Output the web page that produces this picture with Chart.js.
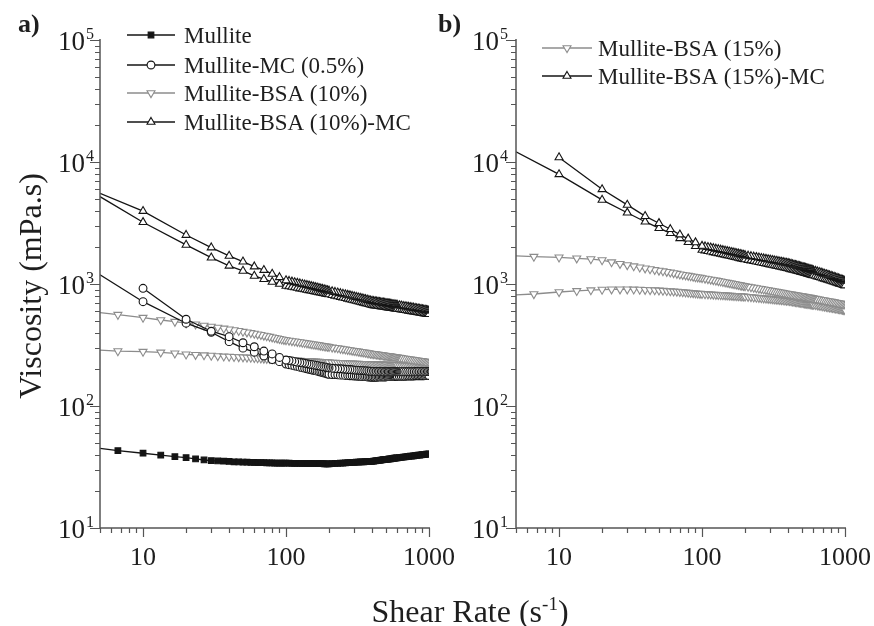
<!DOCTYPE html>
<html>
<head>
<meta charset="utf-8">
<script src="https://cdn.jsdelivr.net/npm/chart.js@4.4.1/dist/chart.umd.min.js"></script>
<style>
  html, body { margin: 0; padding: 0; background: #fff; }
  #wrap { position: relative; width: 874px; height: 626px; overflow: hidden; font-family: "Liberation Serif", "Times New Roman", serif; color: #1e1e1e; }
  canvas { position: absolute; top: 0; left: 0; }
  .panel { position: absolute; top: 11px; font-size: 26px; line-height: 26px; font-weight: bold; }
  #xTitle { position: absolute; left: 270px; width: 400px; top: 595px; font-size: 32px; line-height: 32px; text-align: center; white-space: nowrap; }
  #xTitle sup { font-size: 19px; line-height: 0; vertical-align: 12px; }
  #yTitle { position: absolute; left: -170px; top: 266px; width: 400px; height: 40px; line-height: 40px; font-size: 32px; text-align: center; white-space: nowrap; transform: rotate(-90deg); }
</style>
</head>
<body>
<div id="wrap">
  <canvas id="chartA" width="874" height="626" style="width:874px;height:626px"></canvas>
  <canvas id="chartB" width="874" height="626" style="width:874px;height:626px"></canvas>
  <div class="panel" style="left:18px">a)</div>
  <div class="panel" style="left:438px">b)</div>
  <div id="yTitle">Viscosity (mPa.s)</div>
  <div id="xTitle">Shear Rate (s<sup>-1</sup>)</div>
</div>
<script>
// shear rate grids (s-1); the first point sits on the left edge of the plot
const rateFineHead = [5, 6.67, 10, 13.3, 16.7, 20, 23.3, 26.7, 30, 33.3, 36.7, 40, 43.3, 46.7, 50, 53.3, 56.7, 60, 63.3, 66.7, 70, 73.3, 76.7, 80, 83.3, 86.7, 90, 93.3, 96.7, 100];
const rateCoarseHead = [5, 10, 20, 30, 40, 50, 60, 70, 80, 90, 100];
const rateTail = [105, 110, 115, 120, 125, 130, 135, 140, 145, 150, 155, 160, 165, 170, 175, 180, 185, 190, 195, 200,
  210, 220, 230, 240, 250, 260, 270, 280, 290, 300, 310, 320, 330, 340, 350, 360, 370, 380, 390, 400,
  410, 420, 430, 440, 450, 460, 470, 480, 490, 500, 510, 520, 530, 540, 550, 560, 570, 580, 590, 600,
  620, 640, 660, 680, 700, 720, 740, 760, 780, 800, 820, 840, 860, 880, 900, 920, 940, 960, 980, 1000];

// tick labels
const xTicks = [10, 100, 1000];
const yTicks = [10, 100, 1000, 10000, 100000];

// viscosity (mPa.s), panel a
const mullite = [45, 43, 41, 39.6, 38.4, 37.7, 36.8, 36.1, 35.7, 35.5, 35.3, 35.1, 34.9, 34.8, 34.7, 34.6, 34.5, 34.45, 34.4, 34.35, 34.3, 34.25, 34.2, 34.15, 34.1, 34.1, 34.05, 34.0, 34.0, 34.0,
  34.0, 33.9, 33.9, 33.9, 33.9, 33.8, 33.8, 33.8, 33.8, 33.8, 33.7, 33.7, 33.7, 33.7, 33.7, 33.7, 33.6, 33.6, 33.6, 33.6,
  33.7, 33.8, 33.9, 34.0, 34.1, 34.2, 34.3, 34.4, 34.5, 34.5, 34.6, 34.7, 34.8, 34.8, 34.9, 35.0, 35.0, 35.1, 35.1, 35.2,
  35.3, 35.5, 35.6, 35.8, 35.9, 36.0, 36.1, 36.3, 36.4, 36.5, 36.6, 36.7, 36.8, 36.9, 37.0, 37.2, 37.3, 37.4, 37.5, 37.6,
  37.7, 37.9, 38.1, 38.3, 38.4, 38.6, 38.8, 38.9, 39.1, 39.2, 39.4, 39.5, 39.6, 39.8, 39.9, 40.0, 40.1, 40.3, 40.4, 40.5];

const mcLow = [1190, 716, 477, 402, 337, 298, 276, 257, 240, 231, 221,
  218, 216, 213, 211, 208, 206, 204, 202, 200, 198, 196, 195, 193, 191, 190, 188, 186, 185, 183, 182,
  181, 181, 180, 179, 179, 178, 178, 177, 177, 176, 176, 175, 175, 174, 174, 174, 173, 173, 172, 172,
  172, 172, 172, 173, 173, 173, 173, 173, 173, 173, 174, 174, 174, 174, 174, 174, 174, 174, 175, 175,
  175, 175, 175, 175, 176, 176, 176, 176, 176, 177, 177, 177, 177, 177, 177, 177, 178, 178, 178, 178];
const mcHigh = [null, 922, 514, 410, 370, 330, 306, 282, 267, 250, 238,
  236, 234, 231, 229, 227, 226, 224, 222, 220, 219, 217, 216, 214, 213, 211, 210, 209, 207, 206, 205,
  204, 203, 202, 202, 201, 200, 199, 199, 198, 197, 197, 196, 196, 195, 195, 194, 194, 193, 193, 192,
  192, 192, 192, 192, 192, 191, 191, 191, 191, 191, 191, 191, 191, 191, 191, 191, 191, 191, 191, 191,
  191, 191, 191, 191, 191, 191, 191, 191, 191, 192, 192, 192, 192, 192, 192, 192, 192, 192, 192, 192];

const bsa10Low = [287, 282, 279, 275, 270, 265, 263, 261, 259, 257, 255, 254, 253, 252, 251, 250, 249, 248, 247, 246, 245, 244, 244, 243, 243, 242, 242, 241, 241, 240,
  239, 238, 238, 237, 236, 235, 235, 234, 234, 233, 232, 232, 231, 231, 230, 230, 229, 229, 228, 228,
  227, 227, 226, 226, 225, 225, 224, 224, 224, 223, 223, 223, 222, 222, 222, 221, 221, 221, 220, 220,
  220, 220, 219, 219, 219, 219, 219, 218, 218, 218, 218, 218, 218, 217, 217, 217, 217, 217, 217, 217,
  216, 216, 216, 215, 215, 215, 215, 214, 214, 214, 214, 214, 213, 213, 213, 213, 213, 212, 212, 212];
const bsa10High = [582, 560, 530, 507, 491, 477, 467, 457, 448, 440, 432, 425, 419, 413, 407, 402, 397, 392, 387, 383, 378, 374, 370, 366, 362, 359, 355, 352, 349, 347,
  344, 341, 339, 336, 334, 331, 329, 327, 325, 322, 320, 319, 317, 315, 313, 311, 310, 308, 307, 305,
  302, 300, 298, 295, 293, 291, 289, 287, 285, 283, 282, 280, 278, 277, 275, 274, 272, 271, 269, 268,
  267, 266, 265, 264, 263, 262, 261, 260, 259, 258, 257, 257, 256, 255, 254, 253, 253, 252, 251, 250,
  249, 248, 246, 245, 244, 242, 241, 240, 239, 238, 237, 236, 235, 234, 233, 232, 231, 230, 229, 228];

const bsa10mcLow = [5200, 3210, 2090, 1645, 1410, 1280, 1165, 1095, 1040, 1000, 965,
  955, 945, 936, 927, 918, 910, 902, 895, 887, 880, 873, 867, 860, 854, 848, 842, 836, 831, 825, 820,
  810, 800, 790, 781, 772, 764, 756, 748, 741, 733, 726, 720, 713, 707, 701, 695, 689, 683, 677, 672,
  669, 666, 664, 661, 658, 656, 653, 651, 648, 646, 644, 641, 639, 637, 635, 633, 631, 629, 627, 625,
  621, 617, 614, 610, 607, 603, 600, 597, 594, 591, 588, 585, 583, 580, 577, 575, 572, 570, 567, 565];
const bsa10mcHigh = [5530, 3960, 2520, 1990, 1700, 1525, 1390, 1300, 1210, 1135, 1070,
  1057, 1044, 1032, 1020, 1009, 998, 988, 978, 968, 959, 950, 941, 933, 925, 917, 909, 901, 894, 887, 880,
  869, 859, 849, 839, 830, 821, 813, 805, 797, 789, 782, 775, 768, 761, 755, 749, 742, 737, 731, 725,
  722, 719, 716, 713, 710, 707, 704, 701, 698, 696, 693, 691, 688, 686, 683, 681, 679, 676, 674, 672,
  668, 664, 659, 656, 652, 648, 644, 641, 638, 634, 631, 628, 625, 622, 619, 616, 613, 610, 608, 605];

// viscosity (mPa.s), panel b
const bsa15Low = [813, 828, 860, 878, 890, 900, 905, 905, 905, 903, 900, 897, 893, 890, 886, 882, 878, 874, 870, 866, 862, 858, 854, 850, 846, 843, 840, 836, 833, 830,
  827, 825, 822, 820, 817, 815, 813, 811, 809, 807, 805, 803, 801, 799, 798, 796, 795, 793, 792, 790,
  786, 782, 778, 774, 771, 767, 764, 761, 758, 755, 752, 749, 747, 744, 742, 739, 737, 734, 732, 730,
  727, 724, 721, 718, 715, 712, 709, 707, 704, 701, 699, 696, 694, 691, 689, 687, 684, 682, 680, 678,
  674, 670, 666, 662, 658, 654, 651, 647, 644, 641, 638, 635, 631, 629, 626, 623, 620, 617, 615, 612];
const bsa15High = [1700, 1675, 1655, 1625, 1600, 1570, 1510, 1465, 1430, 1400, 1370, 1345, 1325, 1305, 1290, 1275, 1260, 1245, 1230, 1215, 1200, 1190, 1180, 1170, 1160, 1150, 1140, 1135, 1128, 1120,
  1109, 1098, 1088, 1078, 1069, 1059, 1051, 1042, 1034, 1026, 1019, 1012, 1004, 998, 991, 984, 978, 972, 966, 960,
  951, 942, 934, 926, 918, 911, 904, 897, 890, 884, 878, 872, 866, 861, 855, 850, 845, 840, 835, 830,
  826, 822, 818, 814, 811, 807, 804, 800, 797, 794, 790, 787, 784, 781, 778, 775, 772, 769, 766, 764,
  758, 753, 748, 743, 738, 734, 729, 725, 721, 717, 713, 709, 705, 701, 697, 694, 690, 687, 683, 680];

const bsa15mcLow = [12130, 7920, 4890, 3840, 3240, 2870, 2610, 2370, 2200, 2040, 1900,
  1878, 1857, 1838, 1819, 1800, 1783, 1766, 1750, 1734, 1719, 1704, 1690, 1676, 1663, 1650, 1637, 1625, 1613, 1601, 1590,
  1572, 1556, 1540, 1524, 1510, 1495, 1482, 1469, 1456, 1444, 1432, 1421, 1409, 1399, 1388, 1378, 1368, 1359, 1349, 1340,
  1330, 1320, 1311, 1302, 1293, 1284, 1275, 1266, 1258, 1250, 1242, 1234, 1226, 1219, 1211, 1204, 1197, 1190, 1183, 1176,
  1163, 1150, 1138, 1126, 1114, 1103, 1092, 1081, 1070, 1060, 1050, 1040, 1031, 1022, 1013, 1004, 995, 987, 978, 970];
const bsa15mcHigh = [null, 10900, 5970, 4450, 3600, 3150, 2810, 2540, 2350, 2190, 2050,
  2027, 2005, 1984, 1963, 1944, 1925, 1907, 1890, 1873, 1857, 1841, 1826, 1812, 1797, 1784, 1770, 1757, 1744, 1732, 1720,
  1703, 1687, 1672, 1657, 1643, 1629, 1616, 1604, 1591, 1580, 1568, 1557, 1547, 1536, 1526, 1517, 1507, 1498, 1489, 1480,
  1469, 1458, 1447, 1436, 1426, 1416, 1406, 1396, 1387, 1378, 1369, 1360, 1351, 1342, 1334, 1326, 1318, 1310, 1302, 1294,
  1279, 1265, 1251, 1237, 1224, 1211, 1198, 1186, 1174, 1162, 1151, 1140, 1129, 1119, 1108, 1098, 1088, 1079, 1069, 1060];

const rateFine = rateFineHead.concat(rateTail);
const rateCoarse = rateCoarseHead.concat(rateTail);

const black = '#141414';
const grey = '#8c8c8c';
const axisColor = '#555555';
const serif = '"Liberation Serif", "Times New Roman", serif';

// up sweep followed by the down sweep, as measured
function sweep(rates, low, high) {
  const up = rates.map((x, i) => ({ x: x, y: low[i] }));
  const down = rates.map((x, i) => ({ x: x, y: high[i] })).reverse();
  return up.concat(down);
}

function series(label, data, color, style, rotation, radius, fill) {
  return {
    label: label,
    data: data,
    borderColor: color,
    borderWidth: 1.3,
    pointStyle: style,
    pointRotation: rotation,
    markerSize: radius,
    pointRadius: (ctx) => (ctx.raw && ctx.raw.x < 6) ? 0 : radius,
    pointBorderColor: color,
    pointBackgroundColor: fill,
    pointBorderWidth: 1.1,
    fill: false,
    tension: 0,
    spanGaps: false
  };
}

function drawMarker(ctx, ds, x, y) {
  const r = ds.markerSize;
  ctx.beginPath();
  if (ds.pointStyle === 'rect') {
    const s = r * Math.SQRT1_2;
    ctx.rect(x - s, y - s, 2 * s, 2 * s);
  } else if (ds.pointStyle === 'circle') {
    ctx.arc(x, y, r, 0, Math.PI * 2);
  } else {
    let a = (ds.pointRotation || 0) * Math.PI / 180;
    ctx.moveTo(x + Math.sin(a) * r, y - Math.cos(a) * r);
    for (let k = 0; k < 2; k++) {
      a += Math.PI * 2 / 3;
      ctx.lineTo(x + Math.sin(a) * r, y - Math.cos(a) * r);
    }
  }
  ctx.closePath();
  ctx.fillStyle = ds.pointBackgroundColor;
  ctx.strokeStyle = ds.pointBorderColor;
  ctx.lineWidth = 1.1;
  ctx.fill();
  ctx.stroke();
}

const logAxes = {
  id: 'logAxes',
  afterDraw(chart, args, opts) {
    const ctx = chart.ctx;
    const area = chart.chartArea;
    const xs = chart.scales.x;
    const ys = chart.scales.y;
    ctx.save();
    ctx.strokeStyle = axisColor;
    ctx.lineWidth = 1.5;
    ctx.beginPath();
    ctx.moveTo(area.left, area.top - 1);
    ctx.lineTo(area.left, area.bottom);
    ctx.lineTo(area.right + 1, area.bottom);
    ctx.stroke();

    ctx.lineWidth = 1.2;
    ctx.beginPath();
    for (let e = 0; e <= 5; e++) {
      for (let m = 1; m <= 9; m++) {
        const v = m * Math.pow(10, e);
        if (v >= ys.min && v <= ys.max) {
          const py = Math.round(ys.getPixelForValue(v)) + 0.5;
          ctx.moveTo(area.left - (m === 1 ? 10 : 5), py);
          ctx.lineTo(area.left, py);
        }
        if (v >= xs.min && v <= xs.max) {
          const px = Math.round(xs.getPixelForValue(v)) + 0.5;
          ctx.moveTo(px, area.bottom);
          ctx.lineTo(px, area.bottom + (m === 1 ? 9 : 5));
        }
      }
    }
    ctx.stroke();

    ctx.fillStyle = '#1e1e1e';
    ctx.textBaseline = 'alphabetic';
    yTicks.forEach((v) => {
      const py = ys.getPixelForValue(v);
      const exp = String(Math.round(Math.log10(v)));
      ctx.font = '16px ' + serif;
      const wExp = ctx.measureText(exp).width;
      ctx.font = '27px ' + serif;
      const wBase = ctx.measureText('10').width;
      const right = area.left - opts.labelGap;
      ctx.textAlign = 'left';
      ctx.fillText('10', right - wExp - wBase - 1, py + 9.5);
      ctx.font = '16px ' + serif;
      ctx.fillText(exp, right - wExp, py - 1);
    });
    ctx.font = '26px ' + serif;
    ctx.textAlign = 'center';
    xTicks.forEach((v) => {
      ctx.fillText(String(v), xs.getPixelForValue(v), area.bottom + 37);
    });
    ctx.restore();
  }
};

const lineLegend = {
  id: 'lineLegend',
  afterDraw(chart, args, opts) {
    const ctx = chart.ctx;
    ctx.save();
    chart.data.datasets.forEach((ds, i) => {
      const y = opts.rows[i];
      ctx.strokeStyle = ds.borderColor;
      ctx.lineWidth = 1.3;
      ctx.beginPath();
      ctx.moveTo(opts.x0, y);
      ctx.lineTo(opts.x1, y);
      ctx.stroke();
      drawMarker(ctx, ds, (opts.x0 + opts.x1) / 2, y);
      ctx.fillStyle = '#1e1e1e';
      ctx.font = '23px ' + serif;
      ctx.textAlign = 'left';
      ctx.textBaseline = 'alphabetic';
      ctx.fillText(ds.label, opts.textX, y + 7.6);
    });
    ctx.restore();
  }
};

function makeChart(id, datasets, padding, legendOpts, labelGap) {
  return new Chart(document.getElementById(id), {
    type: 'line',
    data: { datasets: datasets },
    options: {
      responsive: false,
      animation: false,
      devicePixelRatio: 1,
      layout: { padding: padding },
      plugins: {
        legend: { display: false },
        tooltip: { enabled: false },
        lineLegend: legendOpts,
        logAxes: { labelGap: labelGap }
      },
      scales: {
        x: { type: 'logarithmic', min: 5, max: 1000, display: false },
        y: { type: 'logarithmic', min: 10, max: 100000, display: false }
      }
    },
    plugins: [logAxes, lineLegend]
  });
}

makeChart('chartA', [
  series('Mullite', rateFine.map((x, i) => ({ x: x, y: mullite[i] })), black, 'rect', 0, 4, black),
  series('Mullite-MC (0.5%)', sweep(rateCoarse, mcLow, mcHigh), black, 'circle', 0, 3.9, '#ffffff'),
  series('Mullite-BSA (10%)', sweep(rateFine, bsa10Low, bsa10High), grey, 'triangle', 180, 4.6, '#ffffff'),
  series('Mullite-BSA (10%)-MC', sweep(rateCoarse, bsa10mcLow, bsa10mcHigh), black, 'triangle', 0, 4.6, '#ffffff')
], { left: 100, right: 445, top: 40, bottom: 98 }, { x0: 127, x1: 175, textX: 184, rows: [35, 65, 93, 122] }, 6);

makeChart('chartB', [
  series('Mullite-BSA (15%)', sweep(rateFine, bsa15Low, bsa15High), grey, 'triangle', 180, 4.6, '#ffffff'),
  series('Mullite-BSA (15%)-MC', sweep(rateCoarse, bsa15mcLow, bsa15mcHigh), black, 'triangle', 0, 4.6, '#ffffff')
], { left: 516, right: 29, top: 40, bottom: 98 }, { x0: 542, x1: 592, textX: 598, rows: [48, 76] }, 8);
</script>
</body>
</html>
